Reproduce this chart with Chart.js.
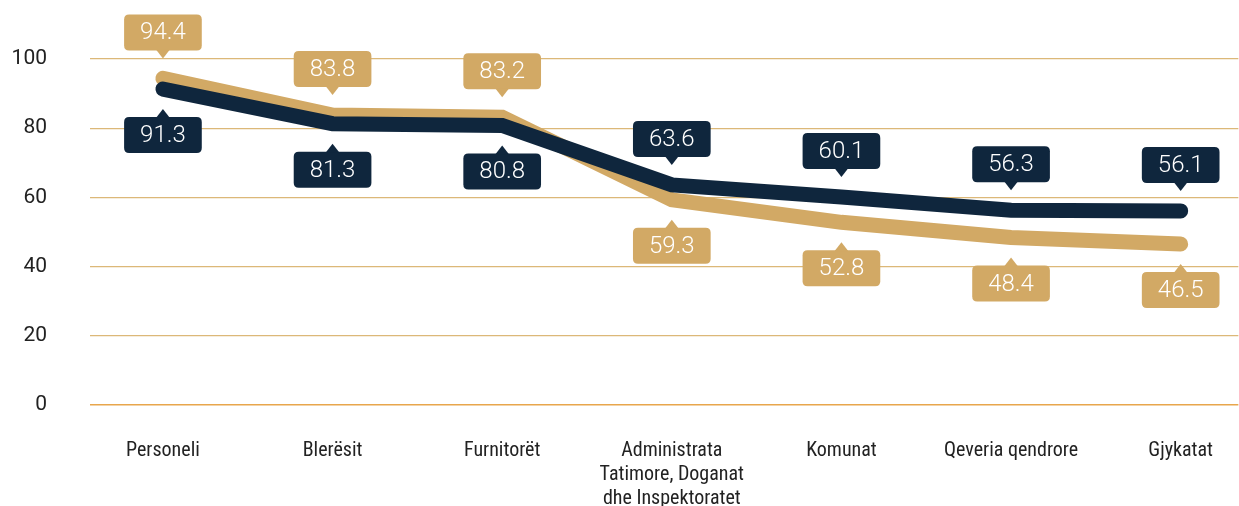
<!DOCTYPE html>
<html>
<head>
<meta charset="utf-8">
<script src="https://cdn.jsdelivr.net/npm/chart.js@4.4.1/dist/chart.umd.min.js"></script>
<style>
  html, body { margin: 0; padding: 0; background: #ffffff; }
  #wrap { width: 1239px; height: 506px; }
</style>
</head>
<body>
<div id="wrap"><canvas id="chart" width="1239" height="506"></canvas></div>
<script>
// institucionet
var categories = [
  'Personeli',
  'Blerësit',
  'Furnitorët',
  ['Administrata', 'Tatimore, Doganat', 'dhe Inspektoratet'],
  'Komunat',
  'Qeveria qendrore',
  'Gjykatat'
];
var navyValues = [91.3, 81.3, 80.8, 63.6, 60.1, 56.3, 56.1];
var goldValues = [94.4, 83.8, 83.2, 59.3, 52.8, 48.4, 46.5];
var yTicks = [0, 20, 40, 60, 80, 100];

var COLORS = {
  navy: '#0f263d',
  gold: '#d2a965',
  grid: '#dcb878',
  zero: '#e8a64c',
  text: '#222222'
};

var FONT_LABEL = "'Liberation Sans Narrow', 'Roboto Condensed', Roboto, sans-serif";
var FONT_NUM = "Roboto, 'Noto Sans', sans-serif";

function toPoints(values) {
  return values.map(function(v, i) { return { x: i, y: v }; });
}

function roundRect(ctx, x, y, w, h, r) {
  ctx.beginPath();
  ctx.moveTo(x + r, y);
  ctx.lineTo(x + w - r, y);
  ctx.quadraticCurveTo(x + w, y, x + w, y + r);
  ctx.lineTo(x + w, y + h - r);
  ctx.quadraticCurveTo(x + w, y + h, x + w - r, y + h);
  ctx.lineTo(x + r, y + h);
  ctx.quadraticCurveTo(x, y + h, x, y + h - r);
  ctx.lineTo(x, y + r);
  ctx.quadraticCurveTo(x, y, x + r, y);
  ctx.closePath();
}

// value callouts: the higher series gets its box above the line, the lower one below
var calloutPlugin = {
  id: 'callouts',
  afterDatasetsDraw: function(chart) {
    var ctx = chart.ctx;
    var sets = chart.data.datasets;
    ctx.save();
    ctx.font = '300 24px ' + FONT_NUM;
    ctx.textAlign = 'center';
    ctx.textBaseline = 'middle';
    for (var d = 0; d < sets.length; d++) {
      var meta = chart.getDatasetMeta(d);
      var other = sets[1 - d].data;
      for (var i = 0; i < meta.data.length; i++) {
        var pt = meta.data[i];
        var v = sets[d].data[i].y;
        var above = v > other[i].y;
        var text = v.toFixed(1);
        var w = ctx.measureText(text).width + 32;
        var h = 36;
        var gap = 20, arrow = 8;
        var tip = above ? pt.y - gap : pt.y + gap;
        var boxY = above ? tip - arrow - h : tip + arrow;
        ctx.fillStyle = sets[d].borderColor;
        roundRect(ctx, pt.x - w / 2, boxY, w, h, 5);
        ctx.fill();
        ctx.beginPath();
        ctx.moveTo(pt.x, tip);
        ctx.lineTo(pt.x - 7, above ? tip - arrow - 1 : tip + arrow + 1);
        ctx.lineTo(pt.x + 7, above ? tip - arrow - 1 : tip + arrow + 1);
        ctx.closePath();
        ctx.fill();
        ctx.fillStyle = '#ffffff';
        ctx.fillText(text, pt.x, boxY + h / 2 + 1);
      }
    }
    ctx.restore();
  }
};

new Chart(document.getElementById('chart'), {
  type: 'line',
  data: {
    datasets: [
      {
        label: 'navy',
        data: toPoints(navyValues),
        borderColor: COLORS.navy,
        borderWidth: 15,
        borderCapStyle: 'round',
        borderJoinStyle: 'miter',
        pointRadius: 0,
        tension: 0,
        clip: false
      },
      {
        label: 'gold',
        data: toPoints(goldValues),
        borderColor: COLORS.gold,
        borderWidth: 15,
        borderCapStyle: 'round',
        borderJoinStyle: 'miter',
        pointRadius: 0,
        tension: 0,
        clip: false
      }
    ]
  },
  options: {
    responsive: false,
    animation: false,
    layout: { padding: { top: 59, right: 0, bottom: 0, left: 0 } },
    plugins: {
      legend: { display: false },
      tooltip: { enabled: false }
    },
    scales: {
      x: {
        type: 'linear',
        min: -0.43,
        max: 6.34,
        grid: { display: false },
        border: { display: false },
        afterFit: function(scale) { scale.height = 101; },
        afterBuildTicks: function(scale) {
          scale.ticks = categories.map(function(c, i) { return { value: i }; });
        },
        ticks: {
          color: COLORS.text,
          font: { family: FONT_LABEL, size: 20 },
          padding: 26,
          maxRotation: 0,
          autoSkip: false,
          callback: function(v) { return categories[v]; }
        }
      },
      y: {
        min: 0,
        max: 100,
        border: { display: false },
        afterFit: function(scale) { scale.width = 90; },
        afterBuildTicks: function(scale) {
          scale.ticks = yTicks.map(function(v) { return { value: v }; });
        },
        grid: {
          drawTicks: false,
          color: function(c) { return c.tick && c.tick.value === 0 ? COLORS.zero : COLORS.grid; },
          lineWidth: function(c) { return c.tick && c.tick.value === 0 ? 1.6 : 1.2; }
        },
        ticks: {
          color: COLORS.text,
          font: { family: FONT_NUM, size: 21, weight: '400' },
          padding: 43
        }
      }
    }
  },
  plugins: [calloutPlugin]
});
</script>
</body>
</html>
